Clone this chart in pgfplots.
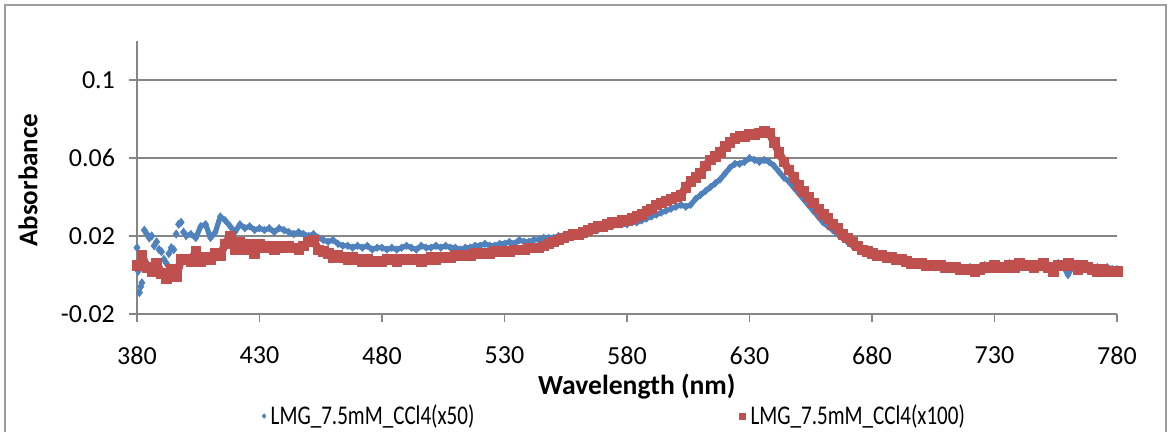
\documentclass[border=0pt]{standalone}
\usepackage{fontspec}
\setmainfont{Carlito}
\usepackage{graphicx}
\usepackage{pgfplots}
\pgfplotsset{compat=1.18}
\definecolor{gridgray}{RGB}{134,134,134}
\definecolor{xlblue}{RGB}{79,129,189}
\definecolor{xlred}{RGB}{192,80,77}

\begin{document}
\begin{tikzpicture}
\useasboundingbox (0,0) rectangle (584pt,216pt);
% chart frame (bottom edge falls outside the picture)
\draw[gridgray!80, line width=0.7pt] (2.5pt,-5pt) -- (2.5pt,213.5pt) -- (583pt,213.5pt) -- (583pt,-5pt);
\begin{axis}[
  at={(68.5pt,59pt)}, anchor=south west,
  scale only axis, width=490pt, height=136.5pt,
  xmin=380, xmax=780, ymin=-0.02, ymax=0.12,
  axis lines*=left,
  axis line style={gridgray, line width=0.9pt},
  xtick={380,430,...,780},
  ytick={-0.02,0.02,0.06,0.1},
  yticklabels={-0.02,0.02,0.06,0.1},
  tick align=outside, major tick length=4pt,
  tick style={gridgray, line width=0.9pt},
  ymajorgrids, grid style={gridgray, line width=0.9pt},
  /pgf/number format/assume math mode=true,
  ticklabel style={font=\fontsize{13}{15}\selectfont},
  xticklabel style={yshift=-9pt},
  yticklabel style={xshift=-3.5pt},
  xlabel={Wavelength (nm)}, ylabel={Absorbance},
  every axis x label/.style={at={(axis description cs:0.51,0)}, yshift=-36.5pt, anchor=center, font=\fontsize{13.8}{16}\selectfont\bfseries},
  every axis y label/.style={at={(axis description cs:0,0.49)}, xshift=-54.5pt, rotate=90, anchor=center, font=\fontsize{13.5}{16}\selectfont\bfseries},
  legend columns=2,
  legend style={at={(axis description cs:0.488,-0.374)}, anchor=center, draw=none, fill=none,
    font=\fontsize{13.5}{15}\selectfont, /tikz/every even column/.append style={column sep=130pt}},
  legend image code/.code={\draw[#1] plot coordinates {(0.1cm,0cm)};},
]
% LMG_7.5mM_CCl4(x50), noisy start drawn as separate marks
\addplot[forget plot, only marks, color=xlblue, mark=diamond*, mark size=2pt] coordinates {
(380,0.014)(380.5,0.002)(381,-0.009)(381.5,-0.006)(382,-0.004)(383,0.023)(384,0.021)(385,0.019)
(386,0.020)(387,0.015)(388,0.017)(389,0.013)(390,0.012)(391,0.008)(392,0.006)(393,0.011)
(394,0.014)(395,0.013)(396,0.021)(397,0.026)(398,0.027)(399,0.022)
};
\addplot[color=xlblue, line width=2.6pt, line join=round, mark=diamond*, mark size=1.9pt,
  mark options={line width=0.3pt},
  legend image post style={mark size=1.2pt}] coordinates {
(400,0.020)(402,0.021)(404,0.019)(406,0.025)
(408,0.026)(410,0.019)(412,0.022)(414,0.030)(416,0.028)(418,0.025)(420,0.022)(422,0.026)
(424,0.024)(426,0.025)(428,0.023)(430,0.024)(432,0.023)(434,0.024)(436,0.022)(438,0.024)
(440,0.023)(442,0.022)(444,0.021)(446,0.022)(448,0.021)(450,0.020)(452,0.021)(454,0.019)
(456,0.018)(458,0.017)(460,0.018)(462,0.016)(464,0.015)(466,0.015)(468,0.014)(470,0.015)
(472,0.014)(474,0.015)(476,0.013)(478,0.014)(480,0.014)(482,0.013)(484,0.014)(486,0.013)
(488,0.014)(490,0.015)(492,0.014)(494,0.013)(496,0.015)(498,0.014)(500,0.014)(502,0.015)
(504,0.014)(506,0.015)(508,0.014)(510,0.014)(512,0.013)(514,0.014)(516,0.014)(518,0.015)
(520,0.015)(522,0.016)(524,0.015)(526,0.015)(528,0.016)(530,0.016)(532,0.017)(534,0.016)
(536,0.018)(538,0.017)(540,0.017)(542,0.018)(544,0.018)(546,0.019)(548,0.019)(550,0.019)
(552,0.020)(554,0.020)(556,0.020)(558,0.021)(560,0.021)(562,0.022)(564,0.022)(566,0.023)
(568,0.023)(570,0.024)(572,0.025)(574,0.025)(576,0.026)(578,0.026)(580,0.026)(582,0.027)
(584,0.027)(586,0.028)(588,0.029)(590,0.030)(592,0.031)(594,0.032)(596,0.033)(598,0.034)
(600,0.035)(602,0.036)(604,0.035)(606,0.036)(608,0.039)(610,0.041)(612,0.043)(614,0.045)
(616,0.047)(618,0.049)(620,0.052)(622,0.055)(624,0.057)(626,0.057)(628,0.058)(630,0.060)
(632,0.059)(634,0.058)(636,0.059)(638,0.058)(640,0.056)(642,0.053)(644,0.050)(646,0.048)
(648,0.045)(650,0.042)(652,0.039)(654,0.036)(656,0.033)(658,0.030)(660,0.027)(662,0.025)
(664,0.023)(666,0.021)(668,0.019)(670,0.017)(672,0.015)(674,0.014)(676,0.013)(678,0.012)
(680,0.011)(682,0.010)(684,0.010)(686,0.009)(688,0.008)(690,0.008)(692,0.007)(694,0.007)
(696,0.006)(698,0.006)(700,0.005)(702,0.005)(704,0.005)(706,0.004)(708,0.004)(710,0.004)
(712,0.004)(714,0.004)(716,0.003)(718,0.003)(720,0.004)(722,0.003)(724,0.004)(726,0.005)
(728,0.004)(730,0.004)(732,0.005)(734,0.004)(736,0.006)(738,0.004)(740,0.005)(742,0.006)
(744,0.005)(746,0.005)(748,0.004)(750,0.006)(752,0.005)(754,0.003)(756,0.006)(758,0.005)
(760,0.000)(762,0.005)(764,0.004)(766,0.003)(768,0.004)(770,0.003)(772,0.004)(774,0.003)
(776,0.004)(778,0.003)(780,0.003)
};
\addlegendentry{\scalebox{0.78}[1]{LMG\_7.5mM\_CCl4(x50)}}
% LMG_7.5mM_CCl4(x100)
\addplot[color=xlred, line width=4pt, line join=round, mark=square*, mark size=2.4pt,
  mark options={line width=0.3pt},
  legend image post style={mark size=1.5pt}] coordinates {
(380,0.005)(382,0.010)(384,0.004)(386,0.002)(388,0.006)(390,0.001)(392,-0.002)(394,0.003)
(396,-0.001)(398,0.008)(400,0.008)(402,0.007)(404,0.012)(406,0.007)(408,0.009)(410,0.008)
(412,0.011)(414,0.010)(416,0.016)(418,0.020)(420,0.013)(422,0.017)(424,0.013)(426,0.016)
(428,0.011)(430,0.016)(432,0.014)(434,0.015)(436,0.013)(438,0.015)(440,0.014)(442,0.015)
(444,0.014)(446,0.013)(448,0.015)(450,0.017)(452,0.018)(454,0.013)(456,0.012)(458,0.011)
(460,0.009)(462,0.010)(464,0.009)(466,0.008)(468,0.009)(470,0.008)(472,0.007)(474,0.008)
(476,0.007)(478,0.007)(480,0.007)(482,0.008)(484,0.008)(486,0.007)(488,0.008)(490,0.008)
(492,0.008)(494,0.008)(496,0.007)(498,0.008)(500,0.009)(502,0.008)(504,0.009)(506,0.009)
(508,0.009)(510,0.010)(512,0.010)(514,0.010)(516,0.010)(518,0.011)(520,0.011)(522,0.011)
(524,0.011)(526,0.012)(528,0.012)(530,0.012)(532,0.012)(534,0.013)(536,0.013)(538,0.013)
(540,0.014)(542,0.014)(544,0.014)(546,0.015)(548,0.016)(550,0.017)(552,0.018)(554,0.019)
(556,0.020)(558,0.021)(560,0.021)(562,0.022)(564,0.023)(566,0.024)(568,0.025)(570,0.025)
(572,0.026)(574,0.027)(576,0.027)(578,0.028)(580,0.028)(582,0.029)(584,0.030)(586,0.031)
(588,0.033)(590,0.034)(592,0.036)(594,0.037)(596,0.038)(598,0.039)(600,0.040)(602,0.041)
(604,0.045)(606,0.048)(608,0.050)(610,0.052)(612,0.056)(614,0.059)(616,0.061)(618,0.063)
(620,0.066)(622,0.068)(624,0.070)(626,0.071)(628,0.071)(630,0.072)(632,0.072)(634,0.073)
(636,0.074)(638,0.073)(640,0.068)(642,0.063)(644,0.058)(646,0.054)(648,0.050)(650,0.046)
(652,0.043)(654,0.040)(656,0.037)(658,0.034)(660,0.031)(662,0.029)(664,0.026)(666,0.024)
(668,0.021)(670,0.019)(672,0.017)(674,0.015)(676,0.013)(678,0.012)(680,0.011)(682,0.010)
(684,0.010)(686,0.009)(688,0.009)(690,0.008)(692,0.008)(694,0.007)(696,0.006)(698,0.006)
(700,0.006)(702,0.005)(704,0.005)(706,0.005)(708,0.005)(710,0.004)(712,0.004)(714,0.004)
(716,0.003)(718,0.003)(720,0.003)(722,0.002)(724,0.003)(726,0.004)(728,0.004)(730,0.005)
(732,0.004)(734,0.004)(736,0.005)(738,0.004)(740,0.006)(742,0.005)(744,0.005)(746,0.004)
(748,0.005)(750,0.006)(752,0.004)(754,0.002)(756,0.005)(758,0.005)(760,0.006)(762,0.005)
(764,0.003)(766,0.005)(768,0.004)(770,0.003)(772,0.002)(774,0.003)(776,0.002)(778,0.002)
(780,0.002)
};
\addlegendentry{\scalebox{0.78}[1]{LMG\_7.5mM\_CCl4(x100)}}
\end{axis}
\end{tikzpicture}
\end{document}
